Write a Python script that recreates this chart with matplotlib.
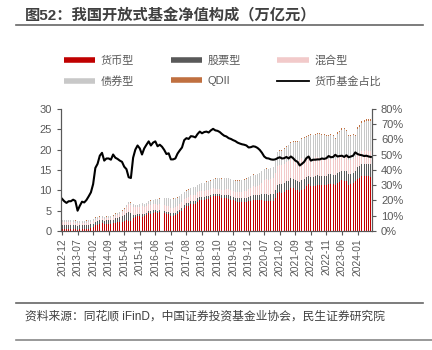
import numpy as np
import pandas as pd
import matplotlib
matplotlib.use("Agg")
import matplotlib.pyplot as plt
from matplotlib.lines import Line2D
from matplotlib.ticker import FuncFormatter

plt.rcParams['font.family'] = ['Liberation Sans', 'Noto Sans CJK SC', 'DejaVu Sans']

# monthly, 2012-12 .. 2024-07 (万亿元)
months = list(pd.period_range('2012-12', '2024-07', freq='M').strftime('%Y-%m'))

money = [0.58, 0.53, 0.50, 0.52, 0.53, 0.56, 0.51, 0.33, 0.41, 0.49, 0.48, 0.53,
         0.60, 0.70, 0.91, 1.38, 1.52, 1.77, 1.87, 1.64, 1.71, 1.73, 1.73, 1.93,
         2.06, 2.10, 2.17, 2.31, 2.36, 2.59, 2.53, 2.43, 3.17, 3.41, 3.61, 3.57,
         3.46, 3.62, 3.93, 4.34, 4.20, 4.43, 4.64, 4.36, 4.55, 4.50, 4.30, 4.13,
         4.12, 3.71, 3.75, 3.85, 4.21, 4.59, 5.03, 5.77, 6.08, 6.15, 6.58, 6.69,
         6.68, 7.24, 7.55, 7.55, 7.71, 7.94, 7.93, 8.24, 8.56, 8.50, 8.53, 8.49,
         8.19, 8.11, 8.11, 7.90, 7.72, 7.50, 7.36, 7.24, 7.16, 7.16, 7.18, 7.22,
         7.28, 7.47, 7.71, 7.62, 7.67, 7.59, 7.58, 7.47, 7.35, 7.27, 7.27, 7.38,
         8.07, 9.30, 9.56, 9.45, 9.68, 10.09, 10.07, 10.64, 10.49, 10.19, 9.97, 9.52,
         10.03, 10.42, 11.11, 11.47, 10.97, 11.07, 11.16, 11.30, 11.26, 11.31, 11.28, 11.30,
         11.59, 11.54, 11.49, 11.38, 11.81, 12.08, 12.42, 12.32, 12.30, 11.40, 11.57, 11.73,
         12.21, 12.85, 12.97, 13.39, 13.40, 13.51, 13.42, 13.34]

stock = [0.95, 0.98, 0.99, 0.96, 0.97, 0.96, 0.93, 0.94, 0.95, 0.94, 0.95, 0.94,
         0.93, 0.92, 0.92, 0.89, 0.87, 0.83, 0.82, 0.88, 0.87, 0.89, 0.92, 0.89,
         1.02, 1.08, 1.18, 1.32, 1.58, 1.88, 2.20, 2.05, 0.72, 0.62, 0.60, 0.66,
         0.75, 0.60, 0.60, 0.62, 0.62, 0.62, 0.60, 0.62, 0.63, 0.62, 0.61, 0.60,
         0.60, 0.61, 0.61, 0.62, 0.62, 0.63, 0.65, 0.67, 0.70, 0.72, 0.74, 0.75,
         0.75, 0.78, 0.74, 0.72, 0.70, 0.68, 0.64, 0.63, 0.62, 0.60, 0.60, 0.60,
         0.62, 0.70, 0.78, 0.85, 0.82, 0.80, 0.84, 0.86, 0.88, 0.90, 0.93, 0.97,
         1.10, 1.15, 1.12, 1.10, 1.18, 1.25, 1.40, 1.62, 1.70, 1.65, 1.70, 1.75,
         1.90, 2.10, 2.05, 2.08, 2.15, 2.18, 2.25, 2.30, 2.28, 2.35, 2.40, 2.50,
         2.55, 2.35, 2.20, 2.10, 2.20, 2.25, 2.35, 2.40, 2.30, 2.20, 2.25, 2.30,
         2.30, 2.35, 2.35, 2.30, 2.35, 2.40, 2.40, 2.45, 2.45, 2.50, 2.50, 2.55,
         2.60, 2.80, 2.90, 3.00, 3.00, 3.05, 3.10, 3.10]

mixed = [0.60, 0.61, 0.62, 0.61, 0.61, 0.61, 0.58, 0.58, 0.58, 0.57, 0.57, 0.57,
         0.56, 0.57, 0.57, 0.55, 0.54, 0.52, 0.50, 0.53, 0.53, 0.54, 0.56, 0.55,
         0.70, 0.74, 0.82, 0.94, 1.12, 1.38, 1.85, 1.90, 2.10, 1.78, 1.62, 1.72,
         1.95, 1.68, 1.60, 1.55, 1.58, 1.50, 1.42, 1.45, 1.42, 1.44, 1.45, 1.42,
         1.38, 1.40, 1.40, 1.40, 1.38, 1.40, 1.43, 1.42, 1.42, 1.46, 1.48, 1.50,
         1.52, 1.50, 1.45, 1.45, 1.42, 1.40, 1.38, 1.36, 1.34, 1.32, 1.30, 1.28,
         1.28, 1.35, 1.42, 1.48, 1.45, 1.44, 1.48, 1.52, 1.58, 1.62, 1.68, 1.75,
         1.95, 2.05, 2.10, 2.12, 2.25, 2.45, 2.85, 3.35, 3.60, 3.62, 3.75, 3.90,
         4.35, 4.60, 4.55, 4.60, 4.62, 4.65, 4.75, 4.80, 4.85, 5.00, 5.10, 5.30,
         5.30, 4.95, 4.60, 4.35, 4.40, 4.45, 4.55, 4.50, 4.30, 4.10, 4.05, 4.00,
         3.90, 3.90, 3.85, 3.80, 3.80, 3.75, 3.70, 3.65, 3.60, 3.50, 3.45, 3.40,
         3.30, 3.30, 3.30, 3.30, 3.30, 3.25, 3.25, 3.20]

bond = [0.55, 0.53, 0.52, 0.52, 0.52, 0.52, 0.51, 0.53, 0.49, 0.48, 0.48, 0.49,
        0.49, 0.49, 0.48, 0.46, 0.45, 0.41, 0.40, 0.44, 0.43, 0.43, 0.43, 0.42,
        0.45, 0.46, 0.46, 0.46, 0.46, 0.47, 0.52, 0.53, 0.53, 0.51, 0.54, 0.57,
        0.65, 0.71, 0.73, 0.80, 1.01, 1.01, 1.15, 1.33, 1.36, 1.50, 1.65, 1.95,
        1.90, 2.08, 2.14, 2.13, 1.99, 1.98, 1.99, 1.74, 1.70, 1.77, 1.70, 1.76,
        1.85, 1.78, 1.76, 1.98, 1.97, 2.08, 2.25, 2.17, 2.18, 2.38, 2.47, 2.63,
        2.71, 2.74, 2.69, 2.67, 2.71, 2.76, 2.72, 2.78, 2.78, 2.81, 2.80, 2.85,
        2.85, 2.81, 2.85, 2.84, 2.88, 2.89, 2.85, 2.74, 2.63, 2.64, 2.66, 2.65,
        2.75, 3.37, 3.51, 3.64, 3.72, 3.74, 3.99, 3.91, 4.23, 4.40, 4.36, 4.70,
        4.73, 5.08, 5.18, 5.36, 6.01, 5.70, 5.60, 5.65, 5.89, 5.93, 6.06, 5.83,
        5.54, 5.83, 5.73, 5.04, 5.95, 6.08, 6.38, 6.68, 6.15, 5.89, 5.86, 5.79,
        5.24, 6.17, 6.43, 6.90, 7.18, 7.16, 7.29, 7.41]

qdii = [0.07] * 18 + [0.06] * 6 + \
       [0.07, 0.07, 0.07, 0.07, 0.08, 0.08, 0.10, 0.09, 0.08, 0.08, 0.08, 0.08] + \
       [0.09] * 11 + [0.10] * 34 + [0.11] * 3 + [0.12] * 12 + \
       [0.13, 0.13, 0.13, 0.13, 0.13, 0.14, 0.14, 0.15, 0.15, 0.16, 0.17, 0.18,
        0.19, 0.20, 0.21, 0.22, 0.22, 0.23, 0.24, 0.25, 0.25, 0.26, 0.26, 0.27,
        0.27, 0.28, 0.28, 0.28, 0.29, 0.29, 0.30, 0.30, 0.30, 0.31, 0.32, 0.33,
        0.35, 0.38, 0.40, 0.41, 0.42, 0.43, 0.44, 0.45]

# 货币基金占比 (%)
share = [21.1, 19.5, 18.4, 19.5, 19.5, 20.5, 19.7, 13.3, 16.5, 19.2, 18.7, 20.3,
         22.7, 25.3, 30.7, 41.3, 44.0, 49.3, 51.2, 46.1, 47.5, 47.5, 46.7, 50.1,
         48.0, 47.2, 46.1, 45.3, 42.1, 40.5, 35.2, 34.7, 48.0, 53.3, 56.0, 54.1,
         50.1, 54.1, 56.5, 58.7, 56.0, 57.9, 58.7, 55.5, 56.5, 55.2, 53.1, 50.4,
         50.9, 46.9, 46.9, 47.5, 50.7, 52.8, 54.7, 59.5, 60.8, 60.3, 62.1, 61.9,
         61.3, 63.5, 65.1, 64.0, 64.8, 65.1, 64.5, 65.9, 66.9, 65.9, 65.6, 64.8,
         63.5, 62.4, 61.9, 60.8, 60.3, 59.5, 58.9, 57.9, 57.3, 56.8, 56.5, 56.0,
         54.7, 54.9, 55.5, 55.2, 54.4, 53.1, 51.2, 48.8, 47.7, 47.5, 46.9, 46.7,
         46.9, 47.7, 48.3, 47.5, 47.7, 48.5, 47.5, 48.8, 47.7, 46.1, 45.3, 42.9,
         44.0, 45.3, 47.7, 48.8, 46.1, 46.7, 46.7, 46.9, 46.9, 47.5, 47.2, 47.7,
         49.1, 48.3, 48.5, 49.9, 48.8, 49.1, 49.3, 48.5, 49.6, 48.3, 48.8, 49.3,
         51.5, 50.4, 49.9, 49.6, 49.1, 49.3, 48.8, 48.5]

series = [('货币型', money, '#C00000'),
          ('股票型', stock, '#595959'),
          ('混合型', mixed, '#F2CACA'),
          ('债券型', bond, '#C8C8C8'),
          ('QDII', qdii, '#C07040')]

grey = '#595959'
x = np.arange(len(months))

fig = plt.figure(figsize=(4.32, 3.5), dpi=100)
ax = fig.add_axes([0.141, 0.34, 0.72, 0.349])

bottom = np.zeros(len(months))
for name, vals, col in series:
    ax.bar(x, vals, bottom=bottom, width=0.45, color=col, linewidth=0)
    bottom += np.array(vals)

ax.set_xlim(-0.5, len(months) - 0.5)
ax.set_ylim(0, 30)
ax.set_yticks(range(0, 31, 5))
ax.set_xticks(x[::7])
ax.set_xticklabels(months[::7], rotation=90)

ax2 = ax.twinx()
ax2.plot(x, share, color='black', lw=1.5)
ax2.set_ylim(0, 80)
ax2.set_yticks(range(0, 81, 10))
ax2.yaxis.set_major_formatter(FuncFormatter(lambda v, p: f'{v:.0f}%'))

for a in (ax, ax2):
    a.spines['top'].set_visible(False)
    for s in ('left', 'right', 'bottom'):
        a.spines[s].set_color(grey)
    a.tick_params(colors=grey, labelsize=7.5, length=3, width=0.8)
ax.tick_params(axis='x', labelsize=7.4, pad=2)
ax.tick_params(axis='y', labelsize=8)
ax2.tick_params(axis='y', labelsize=8)

# legend
handles = []
for name, vals, col in series:
    handles.append(Line2D([], [], color=col, lw=4, solid_capstyle='butt', label=name))
handles.append(Line2D([], [], color='black', lw=1.3, label='货币基金占比'))
order = [0, 3, 1, 4, 2, 5]
fig.legend([handles[k] for k in order], [handles[k].get_label() for k in order],
           ncol=3, loc='center', bbox_to_anchor=(0.515, 0.796), frameon=False,
           fontsize=8, handlelength=2.8, handletextpad=0.5, columnspacing=3.3,
           labelspacing=0.9, labelcolor=grey)

# title and footer
fig.text(0.058, 0.957, '图52：我国开放式基金净值构成（万亿元）', fontsize=11,
         fontweight='bold', color='#404040', va='center')
fig.add_artist(Line2D([0.037, 0.979], [0.929, 0.929], color='#666666', lw=1.2))
fig.add_artist(Line2D([0.037, 0.979], [0.134, 0.134], color='#666666', lw=1.2))
fig.text(0.058, 0.094, '资料来源：同花顺 iFinD，中国证券投资基金业协会，民生证券研究院',
         fontsize=8.5, color='#404040', va='center')
fig.add_artist(Line2D([0.037, 1.0], [0.029, 0.029], color='#888888', lw=1.2))

fig.savefig('out.png', dpi=100)
